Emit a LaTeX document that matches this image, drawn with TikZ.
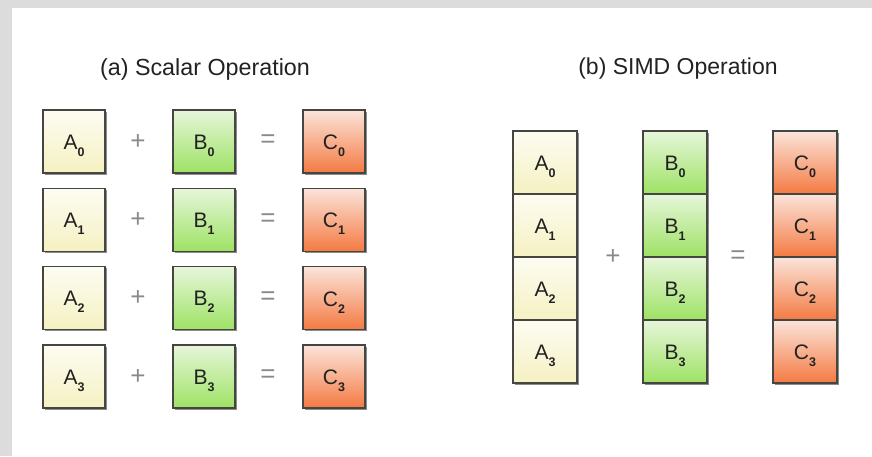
\documentclass[tikz,border=0pt]{standalone}
\usepackage{fontspec}
\setmainfont{Liberation Sans}
\usetikzlibrary{shadows}
\definecolor{framegray}{HTML}{DCDCDC}
\definecolor{aTop}{HTML}{FDFCF2}
\definecolor{aBot}{HTML}{F5F1C2}
\definecolor{bTop}{HTML}{E6F6DA}
\definecolor{bBot}{HTML}{9EE264}
\definecolor{cTop}{HTML}{FBE4DA}
\definecolor{cBot}{HTML}{F47A42}
\definecolor{edgecol}{HTML}{454541}
\definecolor{opcol}{HTML}{8A8A8A}
\definecolor{txtcol}{HTML}{222222}
\newcommand\cellname[2]{\raisebox{-4pt}[\height][\depth]{{\fontsize{21}{21}\selectfont #1}\raisebox{-7pt}{\fontsize{12.5}{12.5}\selectfont\bfseries #2}}}
\tikzset{
  cellbox/.style={draw=edgecol, line width=1.4pt, minimum width=62pt, minimum height=63pt,
    inner sep=0pt, text=txtcol,
    drop shadow={shadow xshift=1.5pt, shadow yshift=-1.5pt, fill=black, opacity=0.45}},
  acell/.style={cellbox, top color=aTop, bottom color=aBot},
  bcell/.style={cellbox, top color=bTop, bottom color=bBot},
  ccell/.style={cellbox, top color=cTop, bottom color=cBot},
  wide/.style={minimum width=64pt},
  optxt/.style={text=opcol, font=\fontsize{26}{26}\selectfont, inner sep=0pt},
  titletxt/.style={text=txtcol, anchor=base, inner sep=0pt}
}
\begin{document}
\begin{tikzpicture}[x=1pt,y=-1pt]
  \useasboundingbox (0,0) rectangle (872,456);
  \fill[framegray] (0,0) rectangle (872,456);
  \fill[white] (12,8) rectangle (872,456);

  % titles
  \node[titletxt, font=\fontsize{23.3}{23.3}\selectfont] (ta) at (205,75) {(a) Scalar Operation};
  \node[titletxt, font=\fontsize{23}{23}\selectfont] (tb) at (678,74) {(b) SIMD Operation};

  % scalar operation
  \foreach \i/\y in {0/141.5, 1/219.8, 2/298.2, 3/376.5} {
    \node[acell] (sa\i) at (74,\y) {\cellname{A}{\i}};
    \node[optxt] (sp\i) at (138,\y) {+};
    \node[bcell] (sb\i) at (204,\y) {\cellname{B}{\i}};
    \node[optxt] (se\i) at (268,\y) {=};
    \node[ccell] (sc\i) at (334,\y) {\cellname{C}{\i}};
  }

  % SIMD operation
  \foreach \i/\y in {0/162.5, 1/225.5, 2/288.5, 3/351.5} {
    \node[acell, wide] (va\i) at (545,\y) {\cellname{A}{\i}};
    \node[bcell, wide] (vb\i) at (675,\y) {\cellname{B}{\i}};
    \node[ccell, wide] (vc\i) at (805,\y) {\cellname{C}{\i}};
  }
  \node[optxt] (vp) at (613,257) {+};
  \node[optxt] (ve) at (738,257) {=};
\end{tikzpicture}
\end{document}
